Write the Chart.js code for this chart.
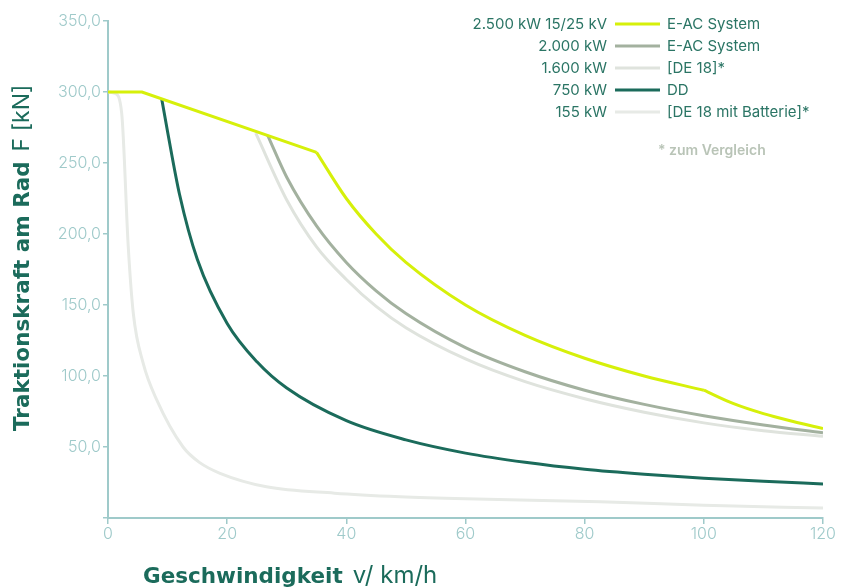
<!DOCTYPE html>
<html>
<head>
<meta charset="utf-8">
<script src="https://cdn.jsdelivr.net/npm/chart.js@4.4.1/dist/chart.umd.min.js"></script>
<style>
  html, body { margin: 0; padding: 0; background: #fff; }
  #wrap { width: 841px; height: 588px; }
</style>
</head>
<body>
<div id="wrap"><canvas id="zugkraftChart" width="841" height="588"></canvas></div>
<script>
// Zugkraftkurven (v in km/h, F in kN)
const kurveEac2500 = [
  {x: 0, y: 300}, {x: 5.7, y: 300}, {x: 35, y: 257.5}, {x: 40, y: 225}, {x: 45, y: 200},
  {x: 50, y: 180}, {x: 60, y: 150}, {x: 70, y: 128.6}, {x: 80, y: 112.5}, {x: 90, y: 100},
  {x: 100, y: 90}, {x: 105, y: 80.5}, {x: 110, y: 73.5}, {x: 115, y: 68}, {x: 120, y: 63}
];
// Knickstellen der gelben Kurve (Index in kurveEac2500)
const knicke = [2, 10];

const kurveEac2000 = [
  {x: 26.8, y: 269.5}, {x: 30, y: 240}, {x: 35, y: 205.7}, {x: 40, y: 180}, {x: 45, y: 160},
  {x: 50, y: 144}, {x: 60, y: 120}, {x: 70, y: 103}, {x: 80, y: 90}, {x: 90, y: 80},
  {x: 100, y: 72}, {x: 110, y: 65.5}, {x: 120, y: 60}
];
const kurveDe18 = [
  {x: 24.8, y: 271}, {x: 30, y: 224}, {x: 35, y: 191}, {x: 40, y: 168}, {x: 45, y: 149},
  {x: 50, y: 134}, {x: 60, y: 112}, {x: 70, y: 96}, {x: 80, y: 84}, {x: 90, y: 74.5},
  {x: 100, y: 67}, {x: 110, y: 61.5}, {x: 120, y: 57.5}
];
const kurveDd = [
  {x: 9, y: 295.5}, {x: 10, y: 272}, {x: 12, y: 228}, {x: 15, y: 182}, {x: 20, y: 137},
  {x: 25, y: 110}, {x: 30, y: 91.5}, {x: 40, y: 68.5}, {x: 50, y: 55}, {x: 60, y: 45.7},
  {x: 70, y: 39.2}, {x: 80, y: 34.3}, {x: 90, y: 30.8}, {x: 100, y: 28}, {x: 110, y: 25.8},
  {x: 120, y: 24}
];
const kurveDe18Batterie = [
  {x: 0, y: 300}, {x: 1.2, y: 299}, {x: 2.3, y: 285}, {x: 3.4, y: 191}, {x: 4.25, y: 144},
  {x: 5.9, y: 109}, {x: 8.2, y: 83}, {x: 12.6, y: 50}, {x: 15.4, y: 39}, {x: 18.8, y: 31.5},
  {x: 26.6, y: 22}, {x: 38, y: 17.5}, {x: 49, y: 15}, {x: 60, y: 13.5}, {x: 82.6, y: 11.5},
  {x: 100, y: 9}, {x: 120, y: 7}
];

const leistungen = ['2.500 kW 15/25 kV', '2.000 kW', '1.600 kW', '750 kW', '155 kW'];
const bezeichnungen = ['E-AC System', 'E-AC System', '[DE 18]*', 'DD', '[DE 18 mit Batterie]*'];
const farben = ['#d6f00a', '#a3b19f', '#dfe3dd', '#1b6b5b', '#e7eae6'];
const xTicks = [0, 20, 40, 60, 80, 100, 120];
const yTicks = [0, 50, 100, 150, 200, 250, 300, 350];

const tuerkis = '#9fcaca';
const dunkelgruen = '#1b6b5b';
const schrift = 'Inter, "Noto Sans", sans-serif';
const fettSchrift = '"DejaVu Sans", sans-serif';

// Legende und Achsentitel direkt auf den Canvas zeichnen
const beschriftung = {
  id: 'beschriftung',
  afterDraw(chart) {
    const ctx = chart.ctx;
    ctx.save();

    // Legende
    const zeilenY = [24, 46, 68, 90, 112];
    ctx.font = '15px ' + schrift;
    ctx.textBaseline = 'middle';
    leistungen.forEach((text, i) => {
      const y = zeilenY[i];
      ctx.fillStyle = '#2b7565';
      ctx.textAlign = 'right';
      ctx.fillText(text, 607, y);
      ctx.textAlign = 'left';
      ctx.fillText(bezeichnungen[i], 667, y);
      ctx.strokeStyle = farben[i];
      ctx.lineWidth = 3;
      ctx.beginPath();
      ctx.moveTo(615, y);
      ctx.lineTo(660, y);
      ctx.stroke();
    });
    ctx.fillStyle = '#b9c4b7';
    ctx.font = '600 14px ' + schrift;
    ctx.fillText('* zum Vergleich', 658, 151);

    // x-Achsentitel
    ctx.fillStyle = dunkelgruen;
    ctx.textBaseline = 'alphabetic';
    ctx.textAlign = 'left';
    ctx.font = 'bold 21.5px ' + fettSchrift;
    ctx.fillText('Geschwindigkeit', 143, 583);
    const b = ctx.measureText('Geschwindigkeit').width;
    ctx.font = '24px ' + schrift;
    ctx.fillText('v/ km/h', 143 + b + 10, 583);

    // y-Achsentitel
    ctx.translate(29, 431);
    ctx.rotate(-Math.PI / 2);
    ctx.font = 'bold 21.5px ' + fettSchrift;
    ctx.fillText('Traktionskraft am Rad', 0, 0);
    const b2 = ctx.measureText('Traktionskraft am Rad').width;
    ctx.font = '23px ' + schrift;
    ctx.fillText('F [kN]', b2 + 10, 0);

    ctx.restore();
  }
};

// gelbe Kurve an den Knickstellen teilen, damit die Ecken scharf bleiben
const gelbTeile = [
  kurveEac2500.slice(0, knicke[0] + 1),
  kurveEac2500.slice(knicke[0], knicke[1] + 1),
  kurveEac2500.slice(knicke[1])
];

function reihe(daten, farbe, glatt, reihenfolge) {
  return {
    data: daten,
    borderColor: farbe,
    borderWidth: 3,
    pointRadius: 0,
    fill: false,
    cubicInterpolationMode: glatt ? 'monotone' : 'default',
    tension: 0,
    order: reihenfolge
  };
}

const zugkraftChart = new Chart(document.getElementById('zugkraftChart').getContext('2d'), {
  type: 'line',
  data: {
    datasets: [
      reihe(gelbTeile[0], farben[0], false, 1),
      reihe(gelbTeile[1], farben[0], true, 1),
      reihe(gelbTeile[2], farben[0], true, 1),
      reihe(kurveEac2000, farben[1], true, 3),
      reihe(kurveDe18, farben[2], true, 4),
      reihe(kurveDd, farben[3], true, 2),
      reihe(kurveDe18Batterie, farben[4], true, 5)
    ]
  },
  options: {
    responsive: false,
    animation: false,
    layout: { padding: { top: 21, right: 18, left: 0, bottom: 0 } },
    plugins: {
      legend: { display: false },
      tooltip: { enabled: false }
    },
    scales: {
      x: {
        type: 'linear',
        min: 0,
        max: 120,
        afterBuildTicks: (axis) => { axis.ticks = xTicks.map(v => ({ value: v })); },
        afterFit: (axis) => { axis.height = 70; },
        border: { color: tuerkis, width: 2 },
        grid: { display: true, drawOnChartArea: false, tickLength: 6, color: tuerkis, lineWidth: 1.5 },
        ticks: {
          color: tuerkis,
          font: { family: schrift, size: 16, weight: '300' },
          padding: 1,
          maxRotation: 0
        }
      },
      y: {
        min: 0,
        max: 350,
        afterBuildTicks: (axis) => { axis.ticks = yTicks.map(v => ({ value: v })); },
        afterFit: (axis) => { axis.width = 108; },
        border: { color: tuerkis, width: 2 },
        grid: { display: true, drawOnChartArea: false, tickLength: 5, color: tuerkis, lineWidth: 1.5 },
        ticks: {
          color: tuerkis,
          font: { family: schrift, size: 16, weight: '300' },
          padding: 2,
          callback: (v) => v === 0 ? '' : v.toFixed(1).replace('.', ',')
        }
      }
    }
  },
  plugins: [beschriftung]
});
</script>
</body>
</html>
